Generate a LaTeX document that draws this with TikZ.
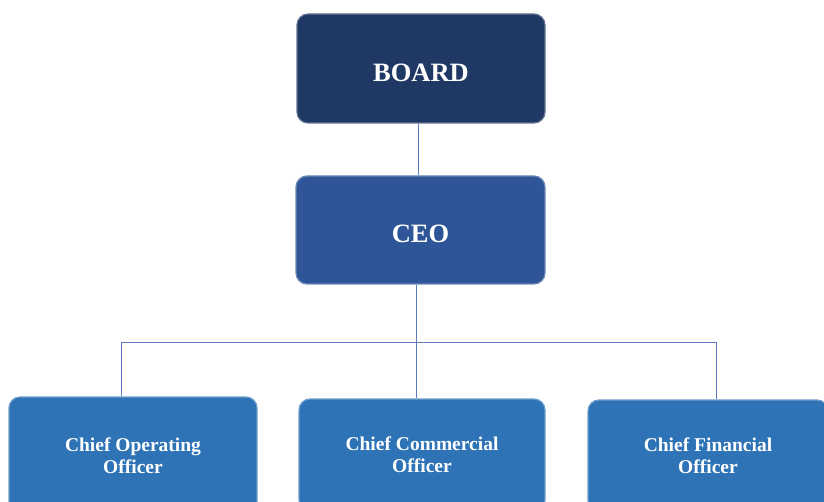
\documentclass[tikz,border=0pt]{standalone}
\usepackage{fontspec}
\setmainfont{Liberation Serif}
\definecolor{boardc}{HTML}{203864}
\definecolor{ceoc}{HTML}{2E5597}
\definecolor{subc}{HTML}{2E73B5}
\definecolor{linec}{HTML}{5B7BC0}
\begin{document}
\begin{tikzpicture}[x=1pt,y=-1pt]
\tikzset{
  box/.style={rounded corners=11pt, text=white, align=center, inner sep=0pt, line width=1.2pt},
  bigbox/.style={box, font=\bfseries\fontsize{26.5}{30}\selectfont},
  smallbox/.style={box, font=\bfseries\fontsize{19.5}{22}\selectfont},
  conn/.style={draw=linec, line width=0.8pt}
}
\useasboundingbox (0,0) rectangle (824,502);
\clip (0,0) rectangle (824,502);
\node[bigbox, fill=boardc, draw=boardc!70!white, minimum width=248pt, minimum height=109pt] (board) at (421,68.5) {\raisebox{-4pt}[\height][\depth]{BOARD}};
\node[bigbox, fill=ceoc, draw=ceoc!70!white, minimum width=249pt, minimum height=108pt] (ceo) at (420.5,230) {\raisebox{-3.5pt}[\height][\depth]{CEO}};
\node[smallbox, fill=subc, draw=subc!70!white, minimum width=248pt, minimum height=118pt] (coo) at (133,456) {Chief Operating\\Officer};
\node[smallbox, fill=subc, draw=subc!70!white, minimum width=246pt, minimum height=112pt] (cco) at (422,455) {Chief Commercial\\Officer};
\node[smallbox, fill=subc, draw=subc!70!white, minimum width=240pt, minimum height=112pt] (cfo) at (708,456) {Chief Financial\\Officer};
\coordinate (top) at (418,0);
\coordinate (hub) at (416,342);
\coordinate (hl) at (121,342);
\coordinate (hr) at (716,342);
\draw[conn] (board.south -| top) -- (ceo.north -| top);
\draw[conn] (ceo.south -| hub) -- (hub);
\draw[conn] (hl) -- (hr);
\draw[conn] (hl) -- (hl |- coo.north);
\draw[conn] (hub) -- (hub |- cco.north);
\draw[conn] (hr) -- (hr |- cfo.north);
\end{tikzpicture}
\end{document}
